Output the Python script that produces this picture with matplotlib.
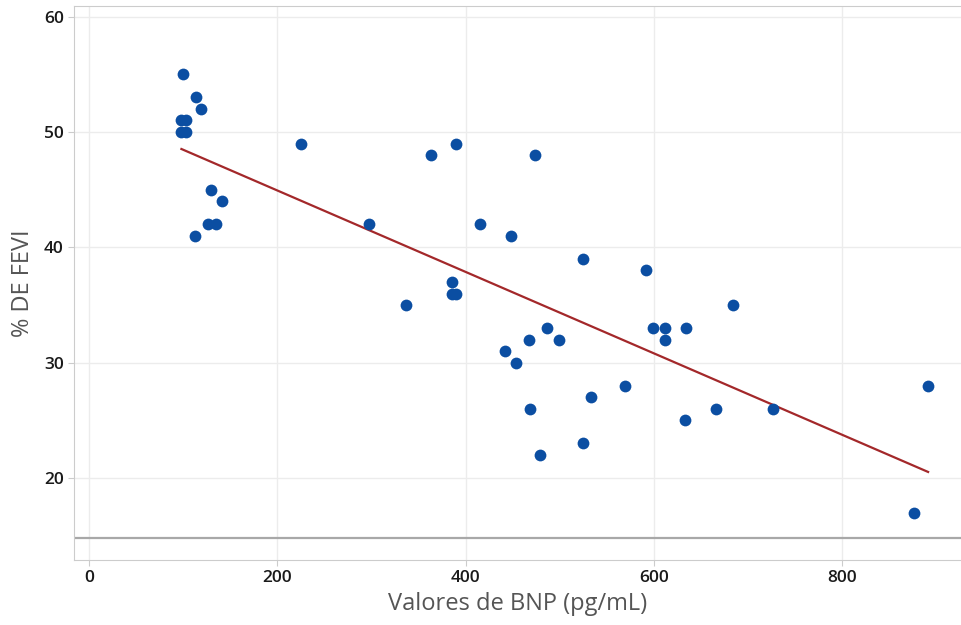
import numpy as np
import matplotlib.pyplot as plt

# valores
bnp = [100, 98, 103, 98, 103, 113, 119, 129, 141, 126, 135, 112,
       225, 297, 336, 363, 390, 385, 385, 390, 415, 448, 524, 591,
       473, 684, 442, 453, 467, 486, 499, 468, 479, 524, 533, 569,
       599, 612, 634, 612, 633, 666, 726, 891, 876]
fevi = [55, 51, 51, 50, 50, 53, 52, 45, 44, 42, 42, 41,
        49, 42, 35, 48, 49, 37, 36, 36, 42, 41, 39, 38,
        48, 35, 31, 30, 32, 33, 32, 26, 22, 23, 27, 28,
        33, 33, 33, 32, 25, 26, 26, 28, 17]
ref_y = 14.8  # línea horizontal de referencia

plt.rcParams['font.family'] = ['Open Sans', 'DejaVu Sans']

fig = plt.figure(figsize=(9.62, 6.25), dpi=100)
ax = fig.add_axes([0.077, 0.104, 0.923, 0.886])

ax.scatter(bnp, fevi, s=72, color='#0b4ea2', zorder=3, linewidths=0)

# recta de regresión
x = np.array(bnp, dtype=float)
m, b = np.polyfit(x, fevi, 1)
xl = np.array([x.min(), x.max()])
ax.plot(xl, m * xl + b, color='#a3282a', lw=1.6, zorder=2)

ax.axhline(ref_y, color='#a8a8a8', lw=1.6, zorder=1)

ax.set_xlim(-16, 927)
ax.set_ylim(12.9, 60.9)
ax.set_xticks([0, 200, 400, 600, 800])
ax.set_yticks([20, 30, 40, 50, 60])
ax.grid(True, color='#ececec', lw=1)
ax.set_axisbelow(True)

for s in ['left', 'bottom', 'top']:
    ax.spines[s].set_color('#cccccc')
ax.spines['right'].set_visible(False)
ax.tick_params(colors='#cccccc', labelcolor='#1a1a1a', labelsize=12.5, length=4)
for lbl in ax.get_xticklabels() + ax.get_yticklabels():
    lbl.set_fontweight('semibold')

ax.set_xlabel('Valores de BNP (pg/mL)', fontsize=17, color='#555555', labelpad=4)
ax.set_ylabel('% DE FEVI', fontsize=17, color='#555555', labelpad=6)

fig.savefig('out.png', dpi=100)
